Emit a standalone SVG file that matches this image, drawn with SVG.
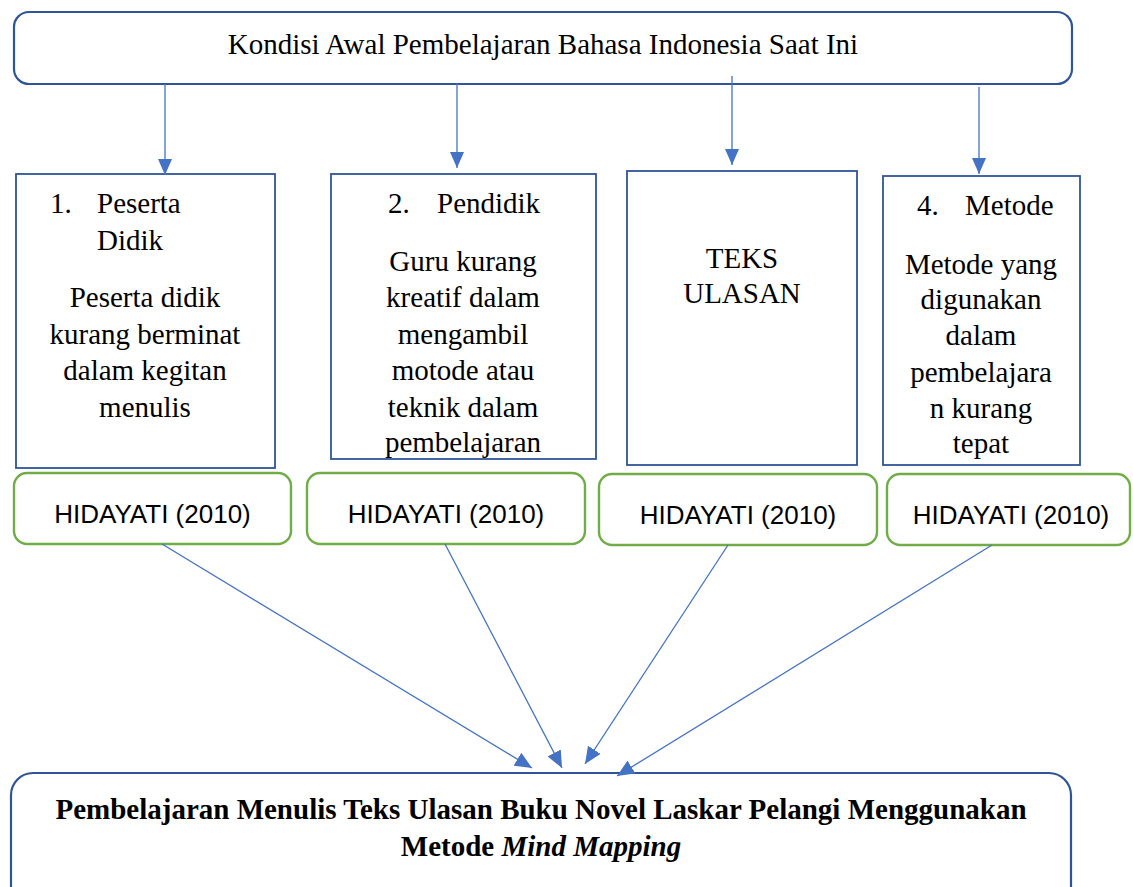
<svg xmlns="http://www.w3.org/2000/svg" width="1133" height="887" viewBox="0 0 1133 887">
<style>
.bg{fill:#ffffff}
.top{fill:#ffffff;stroke:#2F5597;stroke-width:2.2}
.box{fill:#ffffff;stroke:#2F5597;stroke-width:1.8}
.ref{fill:#ffffff;stroke:#70AD47;stroke-width:2.4}
.t{font-family:"Liberation Serif","Times New Roman","DejaVu Serif",serif;font-size:29px;font-weight:normal;fill:#000000}
.c{text-anchor:middle}
.s{font-family:"Liberation Sans",Arial,sans-serif;font-size:26px;fill:#000000;text-anchor:middle}
.b{font-family:"Liberation Serif","Times New Roman","DejaVu Serif",serif;font-size:29px;font-weight:bold;fill:#000000;text-anchor:middle}
.conn line{stroke:#4472C4;stroke-width:1.3;fill:none}
</style>
<defs>
<marker id="ah" viewBox="0 0 16 14" refX="16" refY="7" markerWidth="16" markerHeight="14" markerUnits="userSpaceOnUse" orient="auto">
<path d="M0,0 L16,7 L0,14 z" fill="#4472C4"/>
</marker>
<marker id="ah2" viewBox="0 0 17 15" refX="17" refY="7.5" markerWidth="17" markerHeight="15" markerUnits="userSpaceOnUse" orient="auto">
<path d="M0,0 L17,7.5 L0,15 z" fill="#4472C4"/>
</marker>
</defs>
<rect class="bg" x="0" y="0" width="1133" height="887"/>

<g id="kondisi">
<rect class="top" x="14" y="12" width="1058" height="72" rx="15" ry="15"/>
<text class="t c" x="543" y="54">Kondisi Awal Pembelajaran Bahasa Indonesia Saat Ini</text>
</g>

<g id="peserta">
<rect class="box" x="16" y="174" width="259" height="294"/>
<text class="t" x="50" y="213">1.</text>
<text class="t" x="97" y="213">Peserta</text>
<text class="t" x="97" y="250">Didik</text>
<text class="t c" x="145" y="307">Peserta didik</text>
<text class="t c" x="145" y="344">kurang berminat</text>
<text class="t c" x="145" y="380">dalam kegitan</text>
<text class="t c" x="145" y="417">menulis</text>
</g>

<g id="pendidik">
<rect class="box" x="331" y="174" width="265" height="285"/>
<text class="t" x="388" y="213">2.</text>
<text class="t" x="437" y="213">Pendidik</text>
<text class="t c" x="463" y="271">Guru kurang</text>
<text class="t c" x="463" y="307">kreatif dalam</text>
<text class="t c" x="463" y="344">mengambil</text>
<text class="t c" x="463" y="380">motode atau</text>
<text class="t c" x="463" y="417">teknik dalam</text>
<text class="t c" x="463" y="452">pembelajaran</text>
</g>

<g id="teks">
<rect class="box" x="627" y="171" width="230" height="294"/>
<text class="t c" x="742" y="268">TEKS</text>
<text class="t c" x="742" y="303">ULASAN</text>
</g>

<g id="metode">
<rect class="box" x="883" y="176" width="197" height="289"/>
<text class="t" x="917" y="215">4.</text>
<text class="t" x="965" y="215">Metode</text>
<text class="t c" x="981" y="274">Metode yang</text>
<text class="t c" x="981" y="309">digunakan</text>
<text class="t c" x="981" y="345">dalam</text>
<text class="t c" x="981" y="382">pembelajara</text>
<text class="t c" x="981" y="418">n kurang</text>
<text class="t c" x="981" y="453">tepat</text>
</g>

<g id="ref1">
<rect class="ref" x="14" y="473" width="277" height="71" rx="13" ry="13"/>
<text class="s" x="152.5" y="523">HIDAYATI (2010)</text>
</g>
<g id="ref2">
<rect class="ref" x="307" y="473" width="278" height="71" rx="13" ry="13"/>
<text class="s" x="446" y="523">HIDAYATI (2010)</text>
</g>
<g id="ref3">
<rect class="ref" x="599" y="474" width="278" height="71" rx="13" ry="13"/>
<text class="s" x="738" y="524">HIDAYATI (2010)</text>
</g>
<g id="ref4">
<rect class="ref" x="887" y="474" width="243" height="71" rx="13" ry="13"/>
<text class="s" x="1011" y="524">HIDAYATI (2010)</text>
</g>

<g id="hasil">
<rect class="top" x="11" y="773" width="1060" height="140" rx="22" ry="22"/>
<text class="b" x="541" y="819">Pembelajaran Menulis Teks Ulasan Buku Novel Laskar Pelangi Menggunakan</text>
<text class="b" x="541" y="856">Metode <tspan font-style="italic">Mind Mapping</tspan></text>
</g>

<g id="connectors" class="conn">
<line x1="165" y1="84" x2="165" y2="175" marker-end="url(#ah)"/>
<line x1="457" y1="83" x2="457" y2="168" marker-end="url(#ah)"/>
<line x1="732" y1="76" x2="732" y2="165" marker-end="url(#ah)"/>
<line x1="979" y1="87" x2="979" y2="174" marker-end="url(#ah)"/>
<line x1="162" y1="544" x2="532" y2="768" marker-end="url(#ah2)"/>
<line x1="445" y1="544" x2="562" y2="768" marker-end="url(#ah2)"/>
<line x1="728" y1="545" x2="585" y2="764" marker-end="url(#ah2)"/>
<line x1="992" y1="545" x2="617" y2="776" marker-end="url(#ah2)"/>
</g>
</svg>
